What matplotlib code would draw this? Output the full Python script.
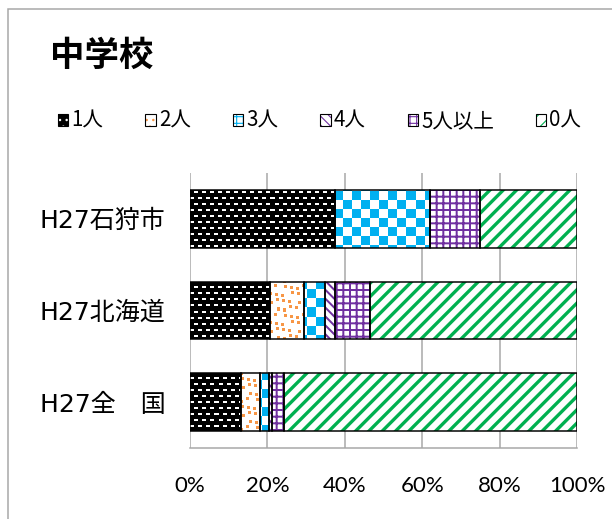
import numpy as np
import matplotlib
matplotlib.use("Agg")
import matplotlib.pyplot as plt
from matplotlib.patches import Patch, Rectangle

# ---------------- data ----------------
categories = ["H27石狩市", "H27北海道", "H27全　国"]
series_labels = ["1人", "2人", "3人", "4人", "5人以上", "0人"]
v_1 = [37.5, 20.8, 13.2]
v_2 = [0.0, 8.7, 4.9]
v_3 = [24.6, 5.4, 2.3]
v_4 = [0.0, 2.6, 0.7]
v_5plus = [12.8, 9.1, 3.3]
v_0 = [25.1, 53.4, 75.6]
xticks = [0, 20, 40, 60, 80, 100]
xtick_labels = ["0%", "20%", "40%", "60%", "80%", "100%"]
title = "中学校"

series_values = [v_1, v_2, v_3, v_4, v_5plus, v_0]

# ---------------- style ----------------
BLACK = "#000000"
ORANGE = "#F79646"
BLUE = "#00B0F0"
PURPLE = "#7030A0"
GREEN = "#00B050"
GRID = "#A6A6A6"
CJK = ["Noto Sans CJK JP", "DejaVu Sans"]
LAT_CJK = ["DejaVu Sans", "Noto Sans CJK JP"]

DPI = 80
FW, FH = 612, 519
fig = plt.figure(figsize=(FW / DPI, FH / DPI), dpi=DPI)
fig.patch.set_facecolor("white")

ax_l, ax_r, ax_t, ax_b = 190, 577, 173, 448
ax = fig.add_axes([ax_l / FW, (FH - ax_b) / FH, (ax_r - ax_l) / FW, (ax_b - ax_t) / FH])

Wpx, Hpx = ax_r - ax_l, ax_b - ax_t
yy, xx = np.mgrid[0:Hpx, 0:Wpx]


def to_rgba_arr(mask, fg, bg):
    fg = np.array(matplotlib.colors.to_rgba(fg))
    bg = np.array(matplotlib.colors.to_rgba(bg))
    out = np.empty((Hpx, Wpx, 4))
    out[:] = bg
    out[mask] = fg
    return out


# textures (pixel-scale patterns)
bricks = ((yy % 6) < 2) & (((xx + 4 * ((yy // 6) % 2)) % 8) < 4)
tex_bricks = to_rgba_arr(bricks, "white", BLACK)
checker = ((xx // 9 + yy // 9) % 2) == 0
tex_checker = to_rgba_arr(checker, BLUE, "white")
ci, cj = xx // 7, yy // 7
ox = (ci * 3 + cj * 5) % 4
oy = (ci * 5 + cj * 2) % 4
lx, ly = xx % 7, yy % 7
confetti = (lx >= ox) & (lx < ox + 3) & (ly >= oy) & (ly < oy + 3)
tex_confetti = to_rgba_arr(confetti, ORANGE, "white")

styles = [
    dict(kind="image", tex=tex_bricks),
    dict(kind="image", tex=tex_confetti),
    dict(kind="image", tex=tex_checker),
    dict(kind="hatch", hatch="\\\\\\", color=PURPLE, hlw=1.8),
    dict(kind="hatch", hatch="++", color=PURPLE, hlw=1.8),
    dict(kind="hatch", hatch="//", color=GREEN, hlw=3.0),
]

ypos = np.arange(len(categories))
bar_h = 0.63
ylim = (len(categories) - 0.5, -0.5)
xlim = (0, 100)

lefts = np.zeros(len(categories))
for vals, st in zip(series_values, styles):
    vals = np.array(vals, dtype=float)
    if st["kind"] == "image":
        bars = ax.barh(ypos, vals, left=lefts, height=bar_h, facecolor="none",
                       edgecolor="none", linewidth=0, zorder=2)
        for p, v in zip(bars.patches, vals):
            if v <= 0:
                continue
            im = ax.imshow(st["tex"], extent=(xlim[0], xlim[1], ylim[0], ylim[1]),
                           aspect="auto", interpolation="nearest", zorder=2)
            im.set_clip_path(p)
    else:
        with plt.rc_context({"hatch.linewidth": st["hlw"]}):
            bars = ax.barh(ypos, vals, left=lefts, height=bar_h, facecolor="white",
                           edgecolor=st["color"], linewidth=0, hatch=st["hatch"], zorder=2)
            for p in bars.patches:
                if hasattr(p, "set_hatch_linewidth"):
                    p.set_hatch_linewidth(st["hlw"])
    ax.barh(ypos, vals, left=lefts, height=bar_h, facecolor="none",
            edgecolor=BLACK, linewidth=1.35, zorder=3)
    lefts = lefts + vals

ax.set_autoscale_on(False)
ax.set_xlim(*xlim)
ax.set_ylim(*ylim)

ax.set_xticks(xticks)
ax.set_xticklabels(xtick_labels, fontsize=20, family=["Lato", "DejaVu Sans"])
ax.set_yticks(ypos)
ax.set_yticklabels(categories, fontsize=22.5, family=LAT_CJK)
ax.tick_params(axis="x", length=0, pad=25)
ax.tick_params(axis="y", length=0, pad=22)
ax.xaxis.grid(True, color=GRID, linewidth=1.35)
ax.set_axisbelow(True)
for s in ("top", "right", "left"):
    ax.spines[s].set_visible(False)
ax.spines["bottom"].set_color(GRID)
ax.spines["bottom"].set_linewidth(1.35)

# title
fig.text(50 / FW, 1 - 55 / FH, title, fontsize=31, fontweight="bold", family=CJK,
         ha="left", va="center")


# legend (fill + black outline overlaid)
def legend_handle(face, hcolor, hatch, hlw):
    fill = Patch(facecolor=face, edgecolor=hcolor, hatch=hatch, linewidth=0)
    if hasattr(fill, "set_hatch_linewidth"):
        fill.set_hatch_linewidth(hlw)
    outline = Patch(facecolor="none", edgecolor=BLACK, linewidth=1.0)
    return (fill, outline)


handles = [
    legend_handle(BLACK, "white", "..", 1.2),
    legend_handle("white", ORANGE, "..", 1.5),
    legend_handle("white", BLUE, "++", 2.5),
    legend_handle("white", PURPLE, "\\\\\\", 1.5),
    legend_handle("white", PURPLE, "++", 1.2),
    legend_handle("white", GREEN, "//", 2.5),
]
fig.legend(handles, series_labels, loc="center left",
           bbox_to_anchor=(58 / FW, 1 - 121 / FH), ncol=6, frameon=False,
           prop=dict(family=CJK, size=18.5), handlelength=0.5, handleheight=0.5,
           handletextpad=0.15, columnspacing=2.05, borderaxespad=0, borderpad=0)

# outer chart border
fig.add_artist(Rectangle((8 / FW, -0.05), 1.0, (FH - 9) / FH + 0.05,
                         transform=fig.transFigure, fill=False,
                         edgecolor=GRID, linewidth=1.35))

fig.savefig("out.png", dpi=DPI)
